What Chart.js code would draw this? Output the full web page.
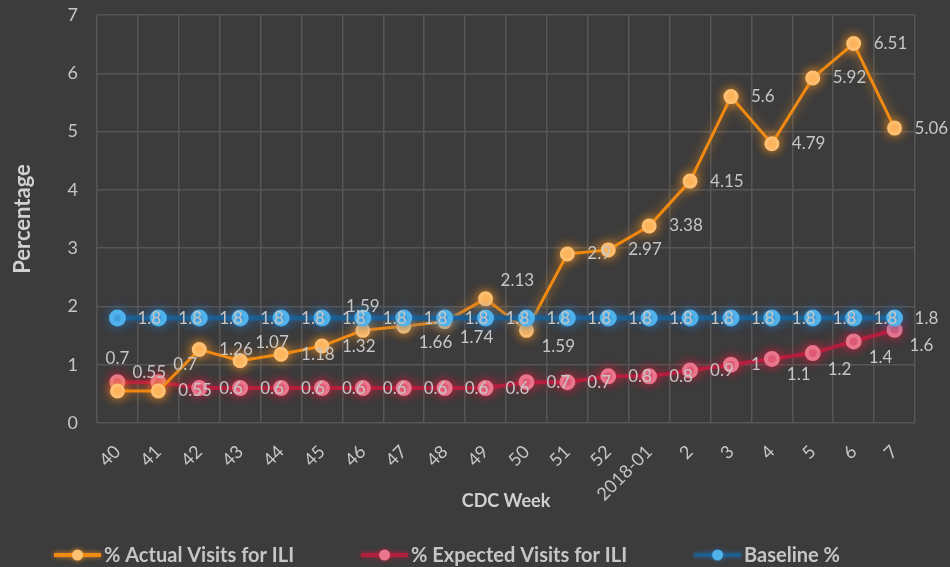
<!DOCTYPE html>
<html><head><meta charset="utf-8">
<script src="https://cdn.jsdelivr.net/npm/chart.js@4"></script>
<style>html,body{margin:0;padding:0;background:#3c3c3c;overflow:hidden}</style>
</head><body>
<canvas id="c" width="950" height="567"></canvas>
<script>
// ---- data ----
const weeks = ['40','41','42','43','44','45','46','47','48','49','50','51','52','2018-01','2','3','4','5','6','7'];
const actualVisits = [0.55,0.55,1.26,1.07,1.18,1.32,1.59,1.66,1.74,2.13,1.59,2.9,2.97,3.38,4.15,5.6,4.79,5.92,6.51,5.06];
const expectedVisits = [0.7,0.7,0.6,0.6,0.6,0.6,0.6,0.6,0.6,0.6,0.7,0.7,0.8,0.8,0.9,1,1.1,1.2,1.4,1.6];
const baseline = [1.8,1.8,1.8,1.8,1.8,1.8,1.8,1.8,1.8,1.8,1.8,1.8,1.8,1.8,1.8,1.8,1.8,1.8,1.8,1.8];
const yTicks = [0,1,2,3,4,5,6,7];
const seriesNames = ['% Actual Visits for ILI','% Expected Visits for ILI','Baseline %'];

// label placement codes (style only)
const actualPlace = ['ar','r','r','ar','r','r','a','br','br','ar','br','r','r','r','r','r','r','r','r','r'];
const expectedPlace = ['a','ar','r','r','r','r','r','r','r','r','r','r','r','r','r','r','br','br','br','br'];
const baselinePlace = baseline.map(() => 'r');

const OFF = { r:[20,0,'left'], a:[0,-24,'center'], ar:[15,-18,'left'], br:[15,16,'left'] };
const TXT = '#c6c6c6';

const bgPlugin = {
  id: 'bg',
  beforeDraw(chart) {
    const c = chart.ctx; c.save(); c.fillStyle = '#3c3c3c';
    c.fillRect(0, 0, chart.width, chart.height); c.restore();
  }
};
const glowPlugin = {
  id: 'glow',
  beforeDatasetDraw(chart, args) {
    const ds = chart.data.datasets[args.index];
    chart.ctx.save();
    chart.ctx.shadowColor = ds.glow; chart.ctx.shadowBlur = 11;
  },
  afterDatasetDraw(chart) { chart.ctx.restore(); }
};
const labelPlugin = {
  id: 'dlabels',
  afterDatasetsDraw(chart) {
    const c = chart.ctx; c.save();
    c.font = '17px Lato'; c.fillStyle = TXT; c.textBaseline = 'middle';
    chart.data.datasets.forEach((ds, di) => {
      const meta = chart.getDatasetMeta(di);
      meta.data.forEach((pt, i) => {
        const o = OFF[ds.place[i]];
        c.textAlign = o[2];
        c.fillText(String(ds.data[i]), pt.x + o[0], pt.y + o[1]);
      });
    });
    c.restore();
  }
};
const legendPlugin = {
  id: 'customLegend',
  afterDraw(chart) {
    const c = chart.ctx; c.save();
    c.font = 'bold 20px Lato'; c.textBaseline = 'middle';
    const markW = 47, gapText = 3, gapItem = 67, y = 555;
    const items = chart.data.datasets.map(ds => ({ ds, w: c.measureText(ds.label).width }));
    const total = items.reduce((s, it) => s + markW + gapText + it.w, 0) + gapItem * (items.length - 1);
    let x = 447 - total / 2;
    items.forEach(it => {
      c.save();
      c.shadowColor = it.ds.glow; c.shadowBlur = 5;
      c.strokeStyle = it.ds.borderColor; c.lineWidth = 4;
      c.beginPath(); c.moveTo(x, y); c.lineTo(x + markW, y); c.stroke();
      c.fillStyle = it.ds.pointBackgroundColor;
      c.beginPath(); c.arc(x + markW / 2, y, 5.5, 0, Math.PI * 2); c.fill();
      c.restore();
      c.fillStyle = TXT; c.textAlign = 'left';
      c.fillText(it.ds.label, x + markW + gapText, y + 1);
      x += markW + gapText + it.w + gapItem;
    });
    c.restore();
  }
};

new Chart(document.getElementById('c'), {
  type: 'line',
  data: {
    labels: weeks,
    datasets: [
      { label: seriesNames[0], data: actualVisits, place: actualPlace, order: 1,
        borderColor: '#f08a12', borderWidth: 3, glow: 'rgba(255,150,30,0.8)',
        pointBackgroundColor: '#fdbf72', pointBorderColor: '#fdbf72', pointRadius: 6, pointHoverRadius: 6 },
      { label: seriesNames[1], data: expectedVisits, place: expectedPlace, order: 2,
        borderColor: '#b2203f', borderWidth: 4, glow: 'rgba(210,30,60,0.8)',
        pointBackgroundColor: '#e8778e', pointBorderColor: '#e8778e', pointRadius: 6, pointHoverRadius: 6 },
      { label: seriesNames[2], data: baseline, place: baselinePlace, order: 0,
        borderColor: '#1d5e8e', borderWidth: 5, glow: 'rgba(40,120,200,0.65)',
        pointBackgroundColor: '#4fb2ea', pointBorderColor: '#4fb2ea', pointRadius: 6, pointHoverRadius: 6 }
    ]
  },
  options: {
    responsive: false, animation: false, devicePixelRatio: 1,
    layout: { padding: { top: 15, right: 35, bottom: 55, left: 0 } },
    plugins: { legend: { display: false }, tooltip: { enabled: false } },
    scales: {
      x: {
        offset: true,
        grid: { color: '#565656', lineWidth: 1.5, drawTicks: false, offset: true },
        border: { display: false },
        ticks: { color: TXT, font: { family: 'Lato', size: 18 }, minRotation: 45, maxRotation: 45, padding: 18, autoSkip: false },
        title: { display: true, text: 'CDC Week', color: '#d0d0d0', font: { family: 'Lato', size: 18, weight: 'bold' }, padding: 0 },
        afterFit(axis) { axis.height = 89; }
      },
      y: {
        min: 0, max: 7,
        afterBuildTicks(axis) { axis.ticks = yTicks.map(v => ({ value: v })); },
        grid: { color: '#565656', lineWidth: 1.5, drawTicks: false },
        border: { display: false },
        ticks: { color: TXT, font: { family: 'Lato', size: 18 }, padding: 19 },
        title: { display: true, text: 'Percentage', color: '#d0d0d0', font: { family: 'Lato', size: 22, weight: 'bold' }, padding: { top: 10, bottom: 0 } },
        afterFit(axis) { axis.width = 97; axis.paddingTop = 0; axis.paddingBottom = 0; }
      }
    }
  },
  plugins: [bgPlugin, glowPlugin, labelPlugin, legendPlugin]
});
</script>
</body></html>
